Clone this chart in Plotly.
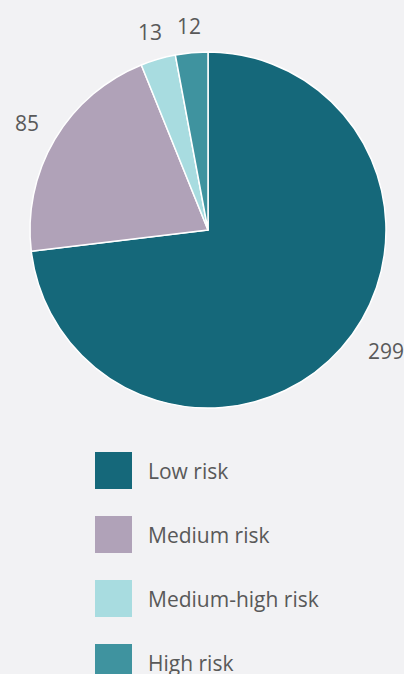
import math
import plotly.graph_objects as go

categories = ["Low risk", "Medium risk", "Medium-high risk", "High risk"]
counts = [299, 85, 13, 12]
colors = ["#15687a", "#b0a2b8", "#a8dce0", "#3f939f"]

W, H = 404, 674
bg = "#f2f2f4"
text_color = "#595959"
font_family = "Open Sans, Liberation Sans, sans-serif"

# pie geometry in pixels
cx, cy, r = 208, 230, 178

# value label placement: gap outside the rim and small angular nudges
label_gap = 18
label_size = 21
label_nudge_deg = [-7.5, 0, 0, 0]

fig = go.Figure()

fig.add_trace(go.Pie(
    labels=categories,
    values=counts,
    sort=False,
    direction="clockwise",
    rotation=0,
    marker=dict(colors=colors, line=dict(color="white", width=1.5)),
    textinfo="none",
    showlegend=False,
    domain=dict(x=[(cx - r) / W, (cx + r) / W],
                y=[1 - (cy + r) / H, 1 - (cy - r) / H]),
    hoverinfo="label+value+percent",
))

# value labels outside each slice, centred on the slice's mid-angle
total = sum(counts)
start = 0.0
for val, nudge in zip(counts, label_nudge_deg):
    span = 360.0 * val / total
    mid = math.radians(start + span / 2 + nudge)
    start += span
    dx, dy = math.sin(mid), -math.cos(mid)
    txt = str(val)
    w = 0.572 * label_size * len(txt)
    h = 0.714 * label_size
    d = r + label_gap + abs(dx) * w / 2 + abs(dy) * h / 2
    fig.add_annotation(
        x=cx + dx * d, y=cy + dy * d, xref="x", yref="y",
        text=txt, showarrow=False, xanchor="center", yanchor="middle",
        font=dict(size=label_size, color=text_color, family=font_family),
    )

# custom legend with large square swatches
leg_x = 113.5
leg_y0 = 470.5
leg_step = 64
leg_y = [leg_y0 + i * leg_step for i in range(len(categories))]

fig.add_trace(go.Scatter(
    x=[leg_x] * len(categories),
    y=leg_y,
    mode="markers",
    marker=dict(symbol="square", size=37, color=colors, line=dict(width=0)),
    showlegend=False,
    hoverinfo="skip",
    cliponaxis=False,
))

for name, y in zip(categories, leg_y):
    fig.add_annotation(
        x=145.5, y=y, xref="x", yref="y",
        text=name, showarrow=False,
        xanchor="left", yanchor="middle",
        font=dict(size=21, color=text_color, family=font_family),
    )

fig.update_layout(
    width=W, height=H,
    margin=dict(l=0, r=0, t=0, b=0),
    paper_bgcolor=bg, plot_bgcolor=bg,
    xaxis=dict(range=[0, W], visible=False, fixedrange=True),
    yaxis=dict(range=[H, 0], visible=False, fixedrange=True),
)

fig.write_html("out.html")
